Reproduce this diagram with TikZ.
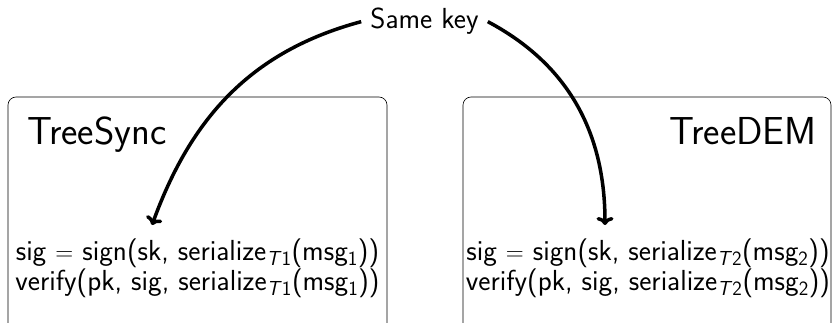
\documentclass[tikz,border=0pt]{standalone}
\usetikzlibrary{arrows.meta}
\begin{document}
\begin{tikzpicture}[x=1pt,y=1pt,
  box/.style={draw,rounded corners=8pt,line width=0.6pt},
  conn/.style={line width=3.5pt,-{To[length=8pt,width=17pt]}},
  code/.style={font=\sffamily\fontsize{29}{36}\selectfont,align=center,inner sep=0pt},
  title/.style={font=\sffamily\fontsize{39}{44}\selectfont,inner sep=0pt,anchor=base west},
  lab/.style={font=\sffamily\fontsize{29}{32}\selectfont,inner xsep=9pt,inner ysep=4pt}]
\useasboundingbox (0,0) rectangle (839,322);
\begin{scope}
\clip (0,0) rectangle (839,322);
\draw[box] (8,-20) rectangle (387,225);
\draw[box] (463,-20) rectangle (831,225);
\end{scope}
\node[title] (ts) at (27,177) {TreeSync};
\node[title,anchor=base east] (td) at (817,177) {TreeDEM};
\node[code,anchor=base] (l1) at (197.5,62) {sig $=$ sign(sk, serialize\textsubscript{\textit{T}1}(msg\textsubscript{1}))};
\node[code,anchor=base] (l2) at (197.5,32) {verify(pk, sig, serialize\textsubscript{\textit{T}1}(msg\textsubscript{1}))};
\node[code,anchor=base] (r1) at (648,62) {sig $=$ sign(sk, serialize\textsubscript{\textit{T}2}(msg\textsubscript{2}))};
\node[code,anchor=base] (r2) at (648,32) {verify(pk, sig, serialize\textsubscript{\textit{T}2}(msg\textsubscript{2}))};
\node[lab,anchor=base] (key) at (424.5,293) {Same key};
\coordinate (lt) at (152,97);
\coordinate (rt) at (605,97);
\draw[conn] (key.west) to[out=195,in=70] (lt);
\draw[conn] (key.east) to[out=-28,in=90] (rt);
\end{tikzpicture}
\end{document}
